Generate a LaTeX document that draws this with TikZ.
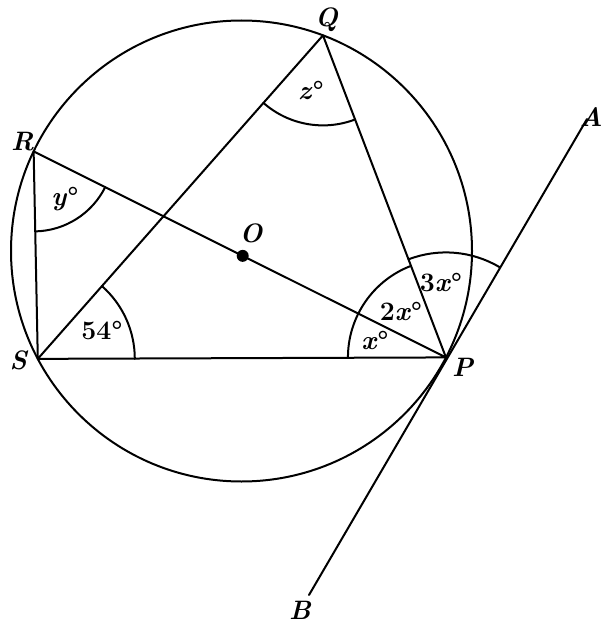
\documentclass[tikz,border=0pt]{standalone}
\usepackage{fontspec}
\usetikzlibrary{calc}
\newcommand{\vx}{\textit{x}}
\begin{document}
\begin{tikzpicture}[x=0.75pt,y=0.75pt,
  geo/.style={line width=1.5pt,line cap=round,line join=round},
  lbl/.style={inner sep=0pt,font=\fontsize{20}{24}\selectfont\bfseries\itshape},
  ang/.style={inner sep=0pt,font=\fontsize{20}{24}\selectfont\bfseries}]
\useasboundingbox (0,0) rectangle (605,-624);
\coordinate (C) at (241.5,-251);
\def\rr{230.5}
\coordinate (P) at ($(C)+(-27.5:\rr)$);
\coordinate (S) at ($(C)+(207.9:\rr)$);
\coordinate (R) at ($(C)+(154.4:\rr)$);
\coordinate (Q) at ($(C)+(69.3:\rr)$);
\coordinate (O) at ($(R)!0.507!(P)$);
\coordinate (A) at (587,-119);
\coordinate (B) at (309,-595);
% circle
\draw[geo] (C) circle[radius=\rr];
% chords
\draw[geo] (R) -- (S) -- (P) -- (R);
\draw[geo] (S) -- (Q) -- (P);
\draw[geo] (A) -- (B);
\fill (O) circle[radius=6];
% angle arcs
\draw[geo] ($(S)+(0:97)$) arc[start angle=0,end angle=48.6,radius=97];
\draw[geo] ($(R)+(-88.8:80)$) arc[start angle=-88.8,end angle=-26.5,radius=80];
\draw[geo] ($(Q)+(228.6:90)$) arc[start angle=228.6,end angle=290.9,radius=90];
\draw[geo] ($(P)+(180.2:98)$) arc[start angle=180.2,end angle=110.9,radius=98];
\draw[geo] ($(P)+(110.9:105)$) arc[start angle=110.9,end angle=59.4,radius=105];
% labels
\node[lbl] (lQ) at (326.5,-20) {Q};
\node[lbl] (lR) at (22.5,-141.5) {R};
\node[lbl] (lO) at (251,-233) {O};
\node[lbl] (lS) at (18.3,-360.5) {S};
\node[lbl] (lP) at (462.5,-367) {P};
\node[lbl,anchor=east] (lA) at (603,-117) {A};
\node[lbl] (lB) at (300,-610) {B};
\node[ang] (ay) at (65,-199) {\textit{y}°};
\node[ang] (az) at (311,-90) {\textit{z}°};
\node[ang] (a54) at (102,-331) {54°};
\node[ang] (ax) at (375,-340) {\vx°};
\node[ang] (a2x) at (401,-311) {2\vx°};
\node[ang] (a3x) at (441,-283) {3\vx°};
\end{tikzpicture}
\end{document}
